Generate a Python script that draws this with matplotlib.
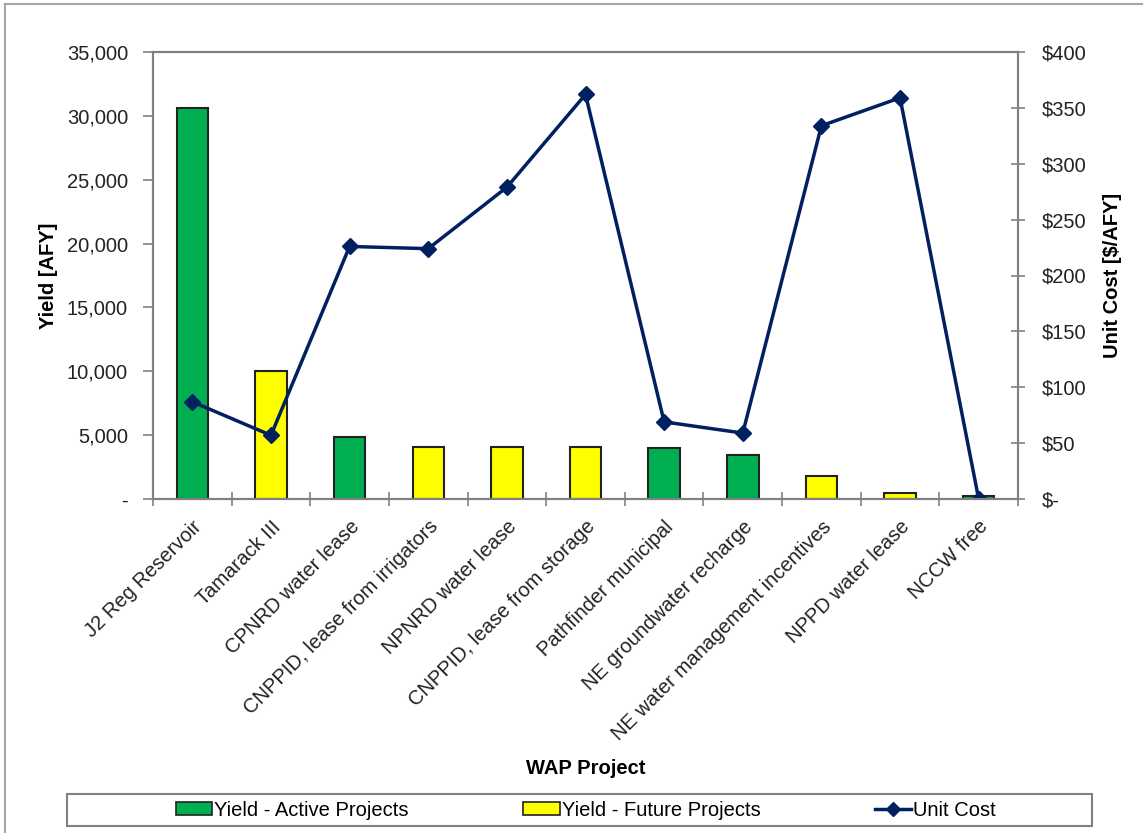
import matplotlib
matplotlib.use("Agg")
import numpy as np
import matplotlib.pyplot as plt
from matplotlib.patches import Patch, Rectangle
from matplotlib.lines import Line2D
from matplotlib.ticker import FuncFormatter

projects = ["J2 Reg Reservoir", "Tamarack III", "CPNRD water lease",
            "CNPPID, lease from irrigators", "NPNRD water lease",
            "CNPPID, lease from storage", "Pathfinder municipal",
            "NE groundwater recharge", "NE water management incentives",
            "NPPD water lease", "NCCW free"]
yield_afy = [30600, 10000, 4830, 4050, 4050, 4050, 4000, 3420, 1800, 450, 250]
active = [True, False, True, False, False, False, True, True, False, False, True]
unit_cost = [87, 57, 226, 224, 279, 362, 69, 59, 334, 359, 0]

green = "#00B050"
yellow = "#FFFF00"
navy = "#002060"
grey = "#808080"
fs = 14.5

plt.rcParams['font.family'] = ['Liberation Sans', 'DejaVu Sans']

fig = plt.figure(figsize=(11.43, 8.33), dpi=100)
W, H = 1143, 833
ax = fig.add_axes([153 / W, 1 - 499 / H, (1018 - 153) / W, (499 - 52) / H])

x = np.arange(len(projects))
colors = [green if a else yellow for a in active]
ax.bar(x, yield_afy, width=0.4, color=colors, edgecolor="#222222", linewidth=1.5)
ax.set_xlim(-0.5, len(projects) - 0.5)
ax.set_ylim(0, 35000)
ax.set_yticks(np.arange(0, 35001, 5000))
ax.yaxis.set_major_formatter(FuncFormatter(lambda v, p: "-" if v == 0 else f"{int(v):,}"))

ax.set_xticks(x)
ax.set_xticklabels(projects, rotation=45, ha="right", rotation_mode="anchor")
ax.set_xticks(np.arange(-0.5, len(projects)), minor=True)
ax.tick_params(axis="x", which="major", length=0, pad=13, labelsize=fs, colors="#222222")
ax.tick_params(axis="x", which="minor", length=10, direction="inout", color=grey, width=1.2)
ax.tick_params(axis="y", length=7, direction="out", pad=11, labelsize=fs, color=grey,
               width=1.2, labelcolor="#222222")
for s in ax.spines.values():
    s.set_color(grey)
    s.set_linewidth(1.5)

ax2 = ax.twinx()
ax2.plot(x, unit_cost, color=navy, linewidth=2.5, marker="D", markersize=8)
ax2.set_ylim(0, 400)
ax2.set_yticks(np.arange(0, 401, 50))
ax2.yaxis.set_major_formatter(FuncFormatter(lambda v, p: "$-" if v == 0 else f"${int(v)}"))
ax2.tick_params(axis="y", length=10, direction="inout", pad=12, labelsize=fs, color=grey,
                width=1.2, labelcolor="#222222")
for s in ax2.spines.values():
    s.set_color(grey)
    s.set_linewidth(1.5)

ax.set_ylabel("Yield [AFY]", fontsize=fs, fontweight="bold", va="center")
ax.yaxis.set_label_coords((48 - 153) / 865, 0.5)
ax2.set_ylabel("Unit Cost [$/AFY]", fontsize=fs, fontweight="bold", va="center")
ax2.yaxis.set_label_coords((1113 - 153) / 865, 0.5)
ax.set_xlabel("WAP Project", fontsize=fs, fontweight="bold", va="center")
ax.xaxis.set_label_coords(0.5, (499 - 768) / 447)

handles = [Patch(facecolor=green, edgecolor="#222222", linewidth=1.2),
           Patch(facecolor=yellow, edgecolor="#222222", linewidth=1.2),
           Line2D([], [], color=navy, linewidth=2.5, marker="D", markersize=7)]
labels = ["Yield - Active Projects", "Yield - Future Projects", "Unit Cost"]
fig.legend(handles, labels, loc="center", bbox_to_anchor=(586 / W, 1 - 810 / H),
           ncol=3, frameon=False, fontsize=fs, handlelength=1.8, handleheight=0.6,
           handletextpad=0.1, columnspacing=5.7)
fig.add_artist(Rectangle((67 / W, 1 - 826 / H), (1092 - 67) / W, 32 / H,
                         transform=fig.transFigure, fill=False, edgecolor=grey, linewidth=1.5))

# light outer frame
fig.add_artist(Line2D([5 / W, 1], [1 - 4 / H, 1 - 4 / H], transform=fig.transFigure,
                      color="#A6A6A6", linewidth=1.5))
fig.add_artist(Line2D([5 / W, 5 / W], [0, 1 - 4 / H], transform=fig.transFigure,
                      color="#A6A6A6", linewidth=1.5))

fig.savefig("out.png", dpi=100)
